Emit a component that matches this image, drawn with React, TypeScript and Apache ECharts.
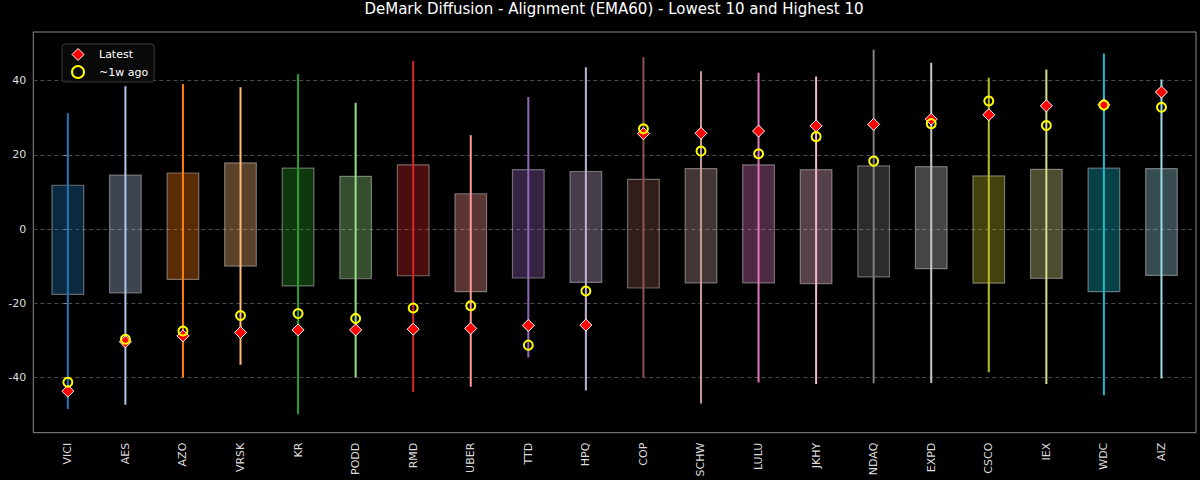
import React, { useEffect, useRef } from "react";
import * as echarts from "echarts";

const categories = ["VICI", "AES", "AZO", "VRSK", "KR", "PODD", "RMD", "UBER", "TTD", "HPQ", "COP", "SCHW", "LULU", "JKHY", "NDAQ", "EXPD", "CSCO", "IEX", "WDC", "AIZ"];
const whiskerLow = [-48.5, -47.4, -40.0, -36.6, -49.9, -40.0, -43.9, -42.5, -34.6, -43.5, -40.0, -47.0, -41.4, -41.8, -41.6, -41.5, -38.6, -41.8, -44.8, -40.3];
const boxLow = [-17.6, -17.2, -13.6, -10.0, -15.3, -13.4, -12.6, -16.9, -13.2, -14.4, -15.9, -14.5, -14.5, -14.7, -12.9, -10.7, -14.6, -13.3, -16.9, -12.5];
const boxHigh = [11.8, 14.5, 15.1, 17.8, 16.4, 14.2, 17.3, 9.5, 16.0, 15.5, 13.4, 16.3, 17.3, 16.0, 17.0, 16.8, 14.3, 16.1, 16.4, 16.3];
const whiskerHigh = [31.2, 38.5, 39.1, 38.2, 41.8, 34.0, 45.3, 25.3, 35.6, 43.6, 46.3, 42.5, 42.1, 41.1, 48.3, 44.8, 40.8, 43.0, 47.3, 40.3];
const latest = [-43.7, -30.4, -28.8, -27.9, -27.2, -27.2, -27.0, -26.8, -26.0, -25.9, 25.7, 25.8, 26.4, 27.8, 28.2, 29.6, 30.8, 33.2, 33.5, 36.9];
const weekAgo = [-41.3, -29.7, -27.5, -23.3, -22.8, -24.1, -21.3, -20.7, -31.3, -16.7, 27.0, 21.0, 20.3, 24.9, 18.3, 28.4, 34.5, 27.9, 33.4, 32.8];
const yTicks = [-40, -20, 0, 20, 40];

const colors = ["#1f77b4", "#aec7e8", "#ff7f0e", "#ffbb78", "#2ca02c", "#98df8a", "#d62728", "#ff9896", "#9467bd", "#c5b0d5", "#8c564b", "#c49c94", "#e377c2", "#f7b6d2", "#7f7f7f", "#c7c7c7", "#bcbd22", "#dbdb8d", "#17becf", "#9edae5"];

const FONT = "DejaVu Sans";
const BOX_WIDTH = 0.55;

function rgba(hex: string, a: number): string {
  const r = parseInt(hex.slice(1, 3), 16);
  const g = parseInt(hex.slice(3, 5), 16);
  const b = parseInt(hex.slice(5, 7), 16);
  return `rgba(${r},${g},${b},${a})`;
}

export default function App() {
  const ref = useRef<HTMLDivElement>(null);
  useEffect(() => {
    if (!ref.current) return;
    const chart = echarts.init(ref.current, null, { renderer: "svg" });
    const idx = categories.map((_, i) => i);
    const boxData = idx.map((i) => [i, whiskerLow[i], boxLow[i], boxHigh[i], whiskerHigh[i]]);
    const option: any = {
      animation: false,
      backgroundColor: "#000000",
      textStyle: { fontFamily: FONT },
      title: {
        text: "DeMark Diffusion - Alignment (EMA60) - Lowest 10 and Highest 10",
        left: 614,
        top: 1,
        textAlign: "center",
        padding: 0,
        textStyle: { color: "#ffffff", fontSize: 15, fontWeight: "normal", fontFamily: FONT },
      },
      legend: {
        orient: "vertical",
        left: 62,
        top: 44,
        padding: [4, 6, 3, 9],
        itemGap: 4,
        itemWidth: 12,
        itemHeight: 12,
        backgroundColor: "rgba(10,10,10,0.9)",
        borderColor: "#3a3a3a",
        borderWidth: 1,
        borderRadius: 3,
        textStyle: { color: "#ffffff", fontSize: 11, fontFamily: FONT, padding: [0, 0, 0, 10], lineHeight: 12 },
        data: [
          { name: "Latest", icon: "diamond", itemStyle: { color: "#ff0000", borderColor: "#ffffff", borderWidth: 1 } },
          { name: "~1w ago", icon: "circle", itemStyle: { color: "rgba(0,0,0,0)", borderColor: "#ffff00", borderWidth: 2 } },
        ],
      },
      grid: {
        left: 33.3,
        right: 4,
        top: 32,
        bottom: 47.3,
        show: true,
        borderColor: "#8a8a8a",
        borderWidth: 1,
        backgroundColor: "transparent",
      },
      xAxis: {
        type: "value",
        min: -0.6,
        max: 19.6,
        axisLine: { show: false },
        splitLine: { show: false },
        axisTick: { show: false, customValues: idx },
        axisLabel: {
          customValues: idx,
          rotate: 90,
          margin: 10,
          color: "#dddddd",
          fontSize: 11,
          fontFamily: FONT,
          formatter: (v: number) => categories[Math.round(v)] ?? "",
        },
      },
      yAxis: {
        type: "value",
        min: -54.9,
        max: 53.1,
        axisLine: { show: false },
        axisTick: { show: true, length: 4, customValues: yTicks, lineStyle: { color: "#8a8a8a" } },
        axisLabel: {
          customValues: yTicks,
          margin: 7,
          color: "#dddddd",
          fontSize: 11,
          fontFamily: FONT,
        },
        splitLine: { show: true, lineStyle: { color: "#4d4d4d", type: [4, 3], width: 1 } },
      },
      series: [
        {
          type: "custom",
          name: "range",
          data: boxData,
          encode: { x: 0, y: [1, 2, 3, 4] },
          z: 2,
          renderItem: (params: any, api: any) => {
            const x = api.value(0);
            const lo = api.coord([x, api.value(1)]);
            const q1 = api.coord([x, api.value(2)]);
            const q3 = api.coord([x, api.value(3)]);
            const hi = api.coord([x, api.value(4)]);
            const w = api.size([BOX_WIDTH, 0])[0];
            const c = colors[params.dataIndex];
            return {
              type: "group",
              children: [
                {
                  type: "rect",
                  shape: { x: q3[0] - w / 2, y: q3[1], width: w, height: q1[1] - q3[1] },
                  style: { fill: rgba(c, 0.35), stroke: "rgba(255,255,255,0.38)", lineWidth: 1.2 },
                },
                {
                  type: "line",
                  shape: { x1: hi[0], y1: hi[1], x2: lo[0], y2: lo[1] },
                  style: { stroke: c, lineWidth: 2 },
                },
              ],
            };
          },
        },
        {
          type: "scatter",
          name: "Latest",
          symbol: "diamond",
          symbolSize: 12,
          z: 3,
          itemStyle: { color: "#ff0000", borderColor: "#ffffff", borderWidth: 1, opacity: 1 },
          data: idx.map((i) => [i, latest[i]]),
        },
        {
          type: "scatter",
          name: "~1w ago",
          symbol: "circle",
          symbolSize: 9,
          z: 4,
          itemStyle: { color: "rgba(0,0,0,0)", borderColor: "#ffff00", borderWidth: 2, opacity: 1 },
          data: idx.map((i) => [i, weekAgo[i]]),
        },
      ],
    };
    chart.setOption(option);
    return () => chart.dispose();
  }, []);
  return (
    <div
      ref={ref}
      style={{ position: "absolute", left: 0, top: 0, width: 1200, height: 480, background: "#000" }}
    />
  );
}
